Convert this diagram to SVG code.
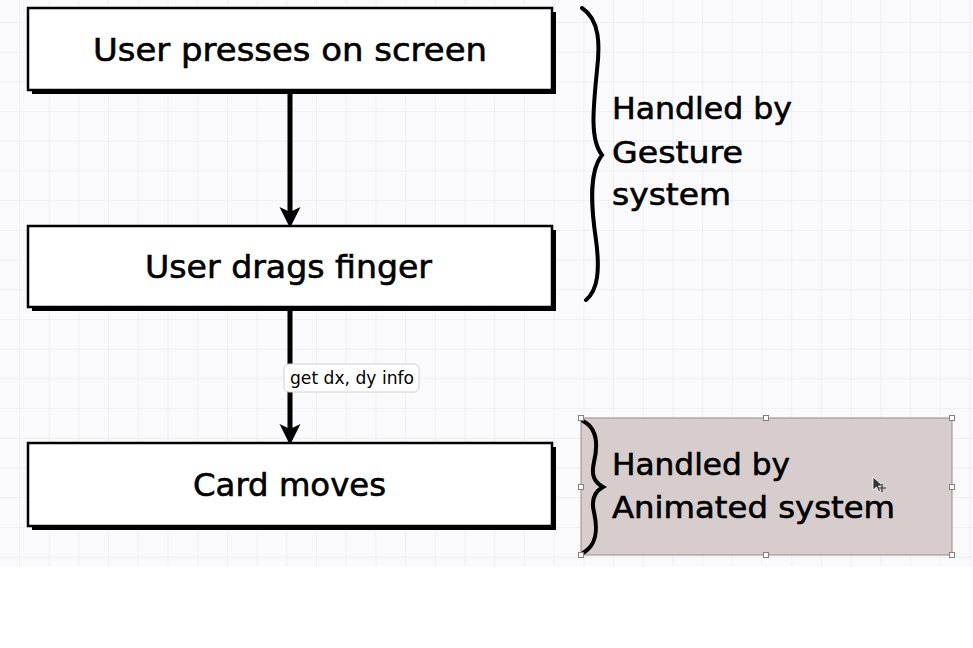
<svg xmlns="http://www.w3.org/2000/svg" width="973" height="648" viewBox="0 0 973 648">
  <defs>
    <pattern id="grid" patternUnits="userSpaceOnUse" x="19" y="22" width="29.7" height="29.7">
      <path d="M0,0 H29.7 M0,0 V29.7" fill="none" stroke="#ebebef" stroke-width="1.4"/>
    </pattern>
    <marker id="arrow" viewBox="0 -11 21 22" refX="5" refY="0" markerWidth="21" markerHeight="22" markerUnits="userSpaceOnUse" orient="auto">
      <path d="M0,-10.5 L21,0 L0,10.5 L5,0 Z" fill="#000"/>
    </marker>
    <style>
      .shadow { fill: #000; }
      .box { fill: #fff; stroke: #000; stroke-width: 2.5; }
      .big { font-family: "DejaVu Sans", "Liberation Sans", sans-serif; font-size: 32px; fill: #000; stroke: #000; stroke-width: 0.6; text-anchor: middle; }
      .side { font-family: "DejaVu Sans", "Liberation Sans", sans-serif; font-size: 30px; fill: #000; stroke: #000; stroke-width: 0.6; }
      .edge { stroke: #000; stroke-width: 5; fill: none; }
      .lbl { font-family: "DejaVu Sans", "Liberation Sans", sans-serif; font-size: 17px; fill: #000; }
      .brace { fill: none; stroke: #000; stroke-width: 4; stroke-linecap: round; }
      .handle { fill: #fff; stroke: #8c7c7b; stroke-width: 1; }
    </style>
  </defs>

  <rect x="0" y="0" width="973" height="648" fill="#fff"/>
  <rect x="0" y="0" width="973" height="566.5" fill="#fafafc"/>
  <rect x="0" y="0" width="973" height="566.5" fill="url(#grid)"/>

  <g id="connectors">
    <line class="edge" x1="290" y1="94" x2="290" y2="212" marker-end="url(#arrow)"/>
    <line class="edge" x1="290" y1="311" x2="290" y2="429" marker-end="url(#arrow)"/>
    <g id="edge-label">
      <rect x="284" y="364" width="135" height="28" rx="5" fill="#fff" stroke="#d0d0d0" stroke-width="1"/>
      <text class="lbl" x="290" y="384" textLength="124" lengthAdjust="spacingAndGlyphs">get dx, dy info</text>
    </g>
  </g>

  <g id="node-press">
    <rect class="shadow" x="32" y="12" width="524" height="82"/>
    <rect class="box" x="28" y="8" width="524" height="82"/>
    <text class="big" x="290" y="61" textLength="394" lengthAdjust="spacingAndGlyphs">User presses on screen</text>
  </g>

  <g id="node-drag">
    <rect class="shadow" x="32" y="230" width="524" height="81"/>
    <rect class="box" x="28" y="226" width="524" height="81"/>
    <text class="big" x="288.5" y="278" textLength="287" lengthAdjust="spacingAndGlyphs">User drags finger</text>
  </g>

  <g id="node-card">
    <rect class="shadow" x="32" y="447" width="524" height="83"/>
    <rect class="box" x="28" y="443" width="524" height="83"/>
    <text class="big" x="289.5" y="496" textLength="193" lengthAdjust="spacingAndGlyphs">Card moves</text>
  </g>

  <g id="note-gesture">
    <path class="brace" d="M582,8 C600,20 600,45 597,70 C593,110 590,140 602,155 C590,170 590,200 596,240 C600,270 598,290 586,300"/>
    <text class="side" x="612" y="119" textLength="180" lengthAdjust="spacingAndGlyphs">Handled by</text>
    <text class="side" x="612" y="163" textLength="131" lengthAdjust="spacingAndGlyphs">Gesture</text>
    <text class="side" x="612" y="205" textLength="119" lengthAdjust="spacingAndGlyphs">system</text>
  </g>

  <g id="note-animated">
    <rect x="581" y="418" width="371" height="137" fill="#d7cdcc" stroke="#9b8988" stroke-width="1"/>
    <path class="brace" d="M583,421 C597,428 598,445 594,462 C591,475 594,482 603,487 C594,492 591,500 594,512 C598,530 597,545 583,553"/>
    <text class="side" x="612" y="475" textLength="178" lengthAdjust="spacingAndGlyphs">Handled by</text>
    <text class="side" x="612" y="518" textLength="283" lengthAdjust="spacingAndGlyphs">Animated system</text>
    <rect class="handle" x="578.5" y="415.5" width="5" height="5"/>
    <rect class="handle" x="763.5" y="415.5" width="5" height="5"/>
    <rect class="handle" x="949.5" y="415.5" width="5" height="5"/>
    <rect class="handle" x="578.5" y="484.5" width="5" height="5"/>
    <rect class="handle" x="949.5" y="484.5" width="5" height="5"/>
    <rect class="handle" x="578.5" y="552.5" width="5" height="5"/>
    <rect class="handle" x="763.5" y="552.5" width="5" height="5"/>
    <rect class="handle" x="949.5" y="552.5" width="5" height="5"/>
  </g>

  <g id="cursor">
    <path d="M873,477 L873,490 L876.5,487 L879,492 L880.5,491 L878.5,486 L883,486 Z" fill="#333" stroke="#fff" stroke-width="0.8"/>
    <path d="M882,484 V492 M878,488 H886" stroke="#333" stroke-width="1.2"/>
  </g>
</svg>
